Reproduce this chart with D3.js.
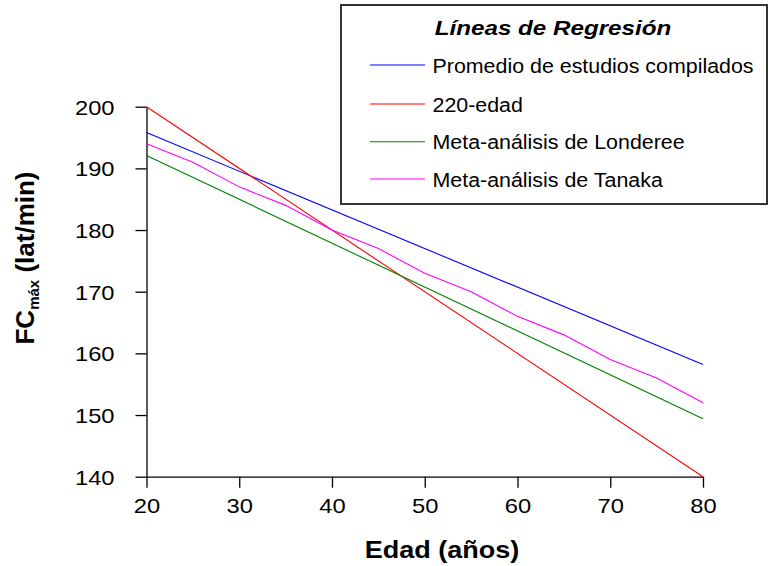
<!DOCTYPE html>
<html><head><meta charset="utf-8">
<script src="https://cdn.jsdelivr.net/npm/d3@7"></script>
<style>body{margin:0;background:#fff}svg{display:block}</style>
</head><body>
<svg id="c" width="768" height="566"></svg>
<script>
const ages = [20,25,30,35,40,45,50,55,60,65,70,75,80];
const seriesNames = ["Promedio de estudios compilados","220-edad","Meta-análisis de Londeree","Meta-análisis de Tanaka"];
const seriesColors = ["#0000ff","#ff0000","#008000","#ff00ff"];
const promedioAges = [20,80];
const promedioVals = [195.8,158.2];
const edadAges = [20,80];
const edadVals = [200,140];
const londereeAges = [20,80];
const londereeVals = [192.1,149.4];
const tanakaVals = [194,191,187,184,180,177,173,170,166,163,159,156,152];
const xTicks = [20,30,40,50,60,70,80];
const yTicks = [140,150,160,170,180,190,200];
const legendTitle = "Líneas de Regresión";
const xTitle = "Edad (años)";

const svg = d3.select("#c");
const FONT = "'Liberation Sans', Arial, sans-serif";
const SX = 1.13;
const x = d3.scaleLinear().domain([20,80]).range([146.5,703]);
const y = d3.scaleLinear().domain([140,200]).range([476.7,106.7]);

const series = [
  promedioAges.map((a,i)=>[a,promedioVals[i]]),
  edadAges.map((a,i)=>[a,edadVals[i]]),
  londereeAges.map((a,i)=>[a,londereeVals[i]]),
  ages.map((a,i)=>[a,tanakaVals[i]])
];

// axes
const gx = svg.append("g").attr("transform",`translate(0,${y(140)})`)
  .call(d3.axisBottom(x).tickValues(xTicks).tickSize(11).tickSizeOuter(0).tickPadding(10.5));
gx.selectAll("text").attr("font-family",FONT).attr("font-size",21).attr("fill","#000")
  .attr("transform",`scale(${SX},1)`);
const gy = svg.append("g").attr("transform",`translate(${x(20)},0)`)
  .call(d3.axisLeft(y).tickValues(yTicks).tickSize(11).tickSizeOuter(0));
gy.selectAll("text").attr("font-family",FONT).attr("font-size",21).attr("fill","#000")
  .attr("x",-32/SX).attr("dy","0.36em").attr("transform",`scale(${SX},1)`);
svg.selectAll(".domain, .tick line").attr("stroke","#000").attr("stroke-width",1.3);

// lines
const line = d3.line().x(d=>x(d[0])).y(d=>y(d[1]));
series.forEach((s,i)=>{
  svg.append("path").attr("d",line(s)).attr("fill","none")
    .attr("stroke",seriesColors[i]).attr("stroke-width",1.1);
});

// axis titles
svg.append("text").attr("transform",`translate(442,558) scale(1.15,1)`)
  .attr("text-anchor","middle").attr("font-family",FONT).attr("font-weight","bold")
  .attr("font-size",23.5).text(xTitle);
const yt = svg.append("text").attr("transform","translate(34,258) rotate(-90)")
  .attr("text-anchor","middle").attr("font-family",FONT).attr("font-weight","bold")
  .attr("font-size",26);
yt.append("tspan").text("FC");
yt.append("tspan").attr("font-size",15).attr("dy",5).text("máx");
yt.append("tspan").attr("dy",-5).text(" (lat/min)");

// legend
const lg = svg.append("g");
lg.append("rect").attr("x",341).attr("y",5).attr("width",426).attr("height",199)
  .attr("fill","#fff").attr("stroke","#333").attr("stroke-width",2);
lg.append("text").attr("transform",`translate(553,35) scale(1.21,1)`).attr("text-anchor","middle")
  .attr("font-family",FONT).attr("font-weight","bold").attr("font-style","italic")
  .attr("font-size",20).text(legendTitle);
const rowY = [65,104,141.7,179];
seriesNames.forEach((n,i)=>{
  lg.append("line").attr("x1",370).attr("x2",425).attr("y1",rowY[i]).attr("y2",rowY[i])
    .attr("stroke",seriesColors[i]).attr("stroke-width",1.1);
  lg.append("text").attr("transform",`translate(432.5,${rowY[i]+7.5}) scale(1.07,1)`)
    .attr("font-family",FONT).attr("font-size",20).attr("fill","#000").text(n);
});
</script>
</body></html>
